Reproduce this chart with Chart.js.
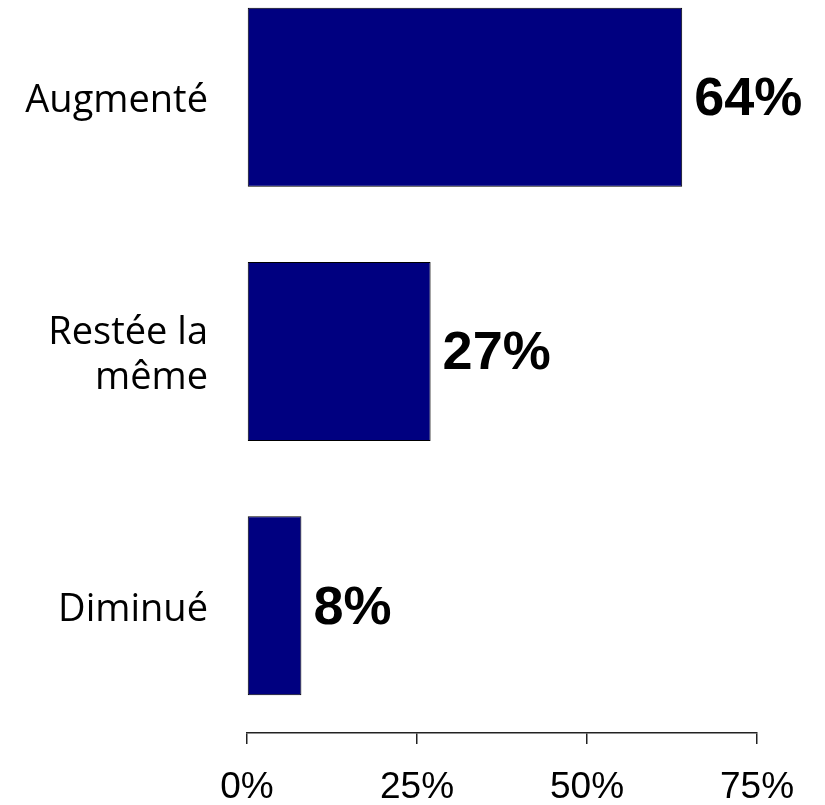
<!DOCTYPE html>
<html>
<head>
<meta charset="utf-8">
<script src="https://cdn.jsdelivr.net/npm/chart.js@4/dist/chart.umd.min.js"></script>
<style>
  html, body { margin: 0; padding: 0; background: #fff; overflow: hidden; }
  #wrap { position: absolute; left: 0; top: -30px; width: 825px; height: 835px; }
</style>
</head>
<body>
<div id="wrap"><canvas id="chart"></canvas></div>
<script>
// data
const categories = ["Augmenté", ["Restée la", "même"], "Diminué"];
const shares = [64, 27, 8];
const xTicks = [0, 25, 50, 75];

// value labels next to bars
const valueLabels = {
  id: "valueLabels",
  afterDatasetsDraw(chart) {
    const ctx = chart.ctx;
    const meta = chart.getDatasetMeta(0);
    ctx.save();
    ctx.fillStyle = "#000";
    ctx.font = "bold 54px 'Liberation Sans', Arial, sans-serif";
    ctx.textAlign = "left";
    ctx.textBaseline = "middle";
    meta.data.forEach((bar, i) => {
      ctx.fillText(shares[i] + "%", bar.x + 12, bar.y + 3);
    });
    ctx.restore();
  },
};

new Chart(document.getElementById("chart").getContext("2d"), {
  type: "bar",
  data: {
    labels: categories,
    datasets: [
      {
        data: shares,
        backgroundColor: "#000080",
        borderColor: "#000",
        borderWidth: 1,
        borderSkipped: false,
        categoryPercentage: 1,
        barPercentage: 0.704,
      },
    ],
  },
  options: {
    indexAxis: "y",
    responsive: true,
    maintainAspectRatio: false,
    animation: false,
    layout: { padding: { top: 0, right: 68, bottom: 0, left: 0 } },
    plugins: {
      legend: { display: false },
      tooltip: { enabled: false },
    },
    scales: {
      x: {
        min: 0,
        max: 75,
        afterBuildTicks(scale) {
          scale.ticks = xTicks.map((v) => ({ value: v }));
        },
        afterFit(scale) {
          scale.height = 72;
          scale.paddingLeft = 0;
          scale.paddingRight = 0;
        },
        border: { display: true, color: "#222", width: 1.5 },
        grid: {
          drawOnChartArea: false,
          drawTicks: true,
          tickLength: 11,
          color: "#222",
          lineWidth: 1.5,
        },
        ticks: {
          color: "#000",
          padding: 22,
          maxRotation: 0,
          font: { family: "'Liberation Sans', Arial, sans-serif", size: 37 },
          callback: (v) => v + "%",
        },
      },
      y: {
        afterFit(scale) {
          scale.width = 247;
          scale.paddingTop = 0;
          scale.paddingBottom = 0;
        },
        border: { display: false },
        grid: { display: false, drawTicks: false },
        ticks: {
          color: "#000",
          padding: 39,
          labelOffset: 4,
          font: { family: "'Open Sans', sans-serif", size: 38, lineHeight: 1.18 },
        },
      },
    },
  },
  plugins: [valueLabels],
});
</script>
</body>
</html>
